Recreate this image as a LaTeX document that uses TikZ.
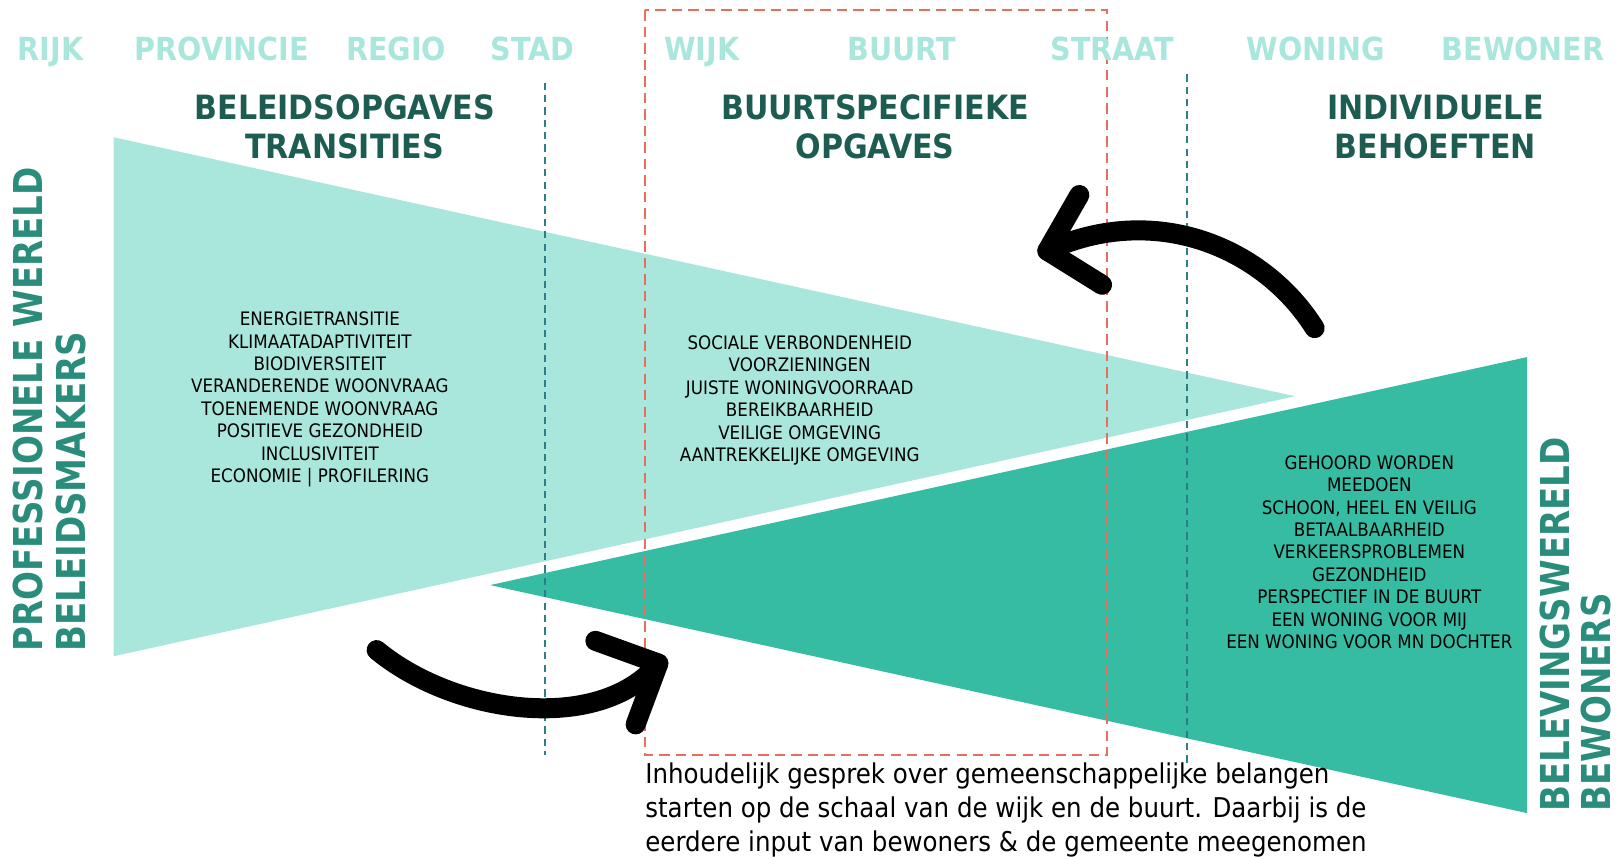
\documentclass[tikz,border=0pt]{standalone}
\usepackage{fontspec}
\setmainfont{DejaVu Sans}[FakeStretch=0.9]
\newfontfamily\boldf{DejaVu Sans}[FakeStretch=0.9]
\newfontfamily\sidef{DejaVu Sans}[FakeStretch=0.855]
\definecolor{lightteal}{HTML}{A9E7DC}
\definecolor{darkteal}{HTML}{37BCA4}
\definecolor{headgreen}{HTML}{1D5C50}
\definecolor{sidegreen}{HTML}{2A8D7B}
\definecolor{redd}{HTML}{E46F5B}
\definecolor{dashteal}{HTML}{2F7E87}
\tikzset{
  toplabel/.style={font=\boldf\bfseries\fontsize{15.4}{17}\selectfont, text=lightteal, inner sep=0pt, anchor=base},
  heading/.style={font=\boldf\bfseries\fontsize{16.2}{19}\selectfont, text=headgreen, align=center, inner sep=0pt},
  listtext/.style={font=\fontsize{9}{10.85}\selectfont, align=center, inner sep=0pt},
  sidelabel/.style={font=\sidef\bfseries\fontsize{19.3}{21}\selectfont, text=sidegreen, rotate=90, anchor=west, inner sep=0pt},
  reddash/.style={draw=redd, line width=1pt, dash pattern=on 5pt off 3pt},
  tealdash/.style={draw=dashteal, line width=0.9pt, dash pattern=on 3.5pt off 2.5pt},
  bigarrow/.style={draw=black, line width=9.7pt, line cap=round, line join=round},
  bodytext/.style={font=\fontsize{13.2}{16.6}\selectfont, align=left, inner sep=0pt}
}
\begin{document}
\begin{tikzpicture}[x=0.5pt,y=-0.5pt]
\useasboundingbox (0,0) rectangle (1568,830.4);
% triangles
\fill[lightteal] (110,133) -- (1255,384) -- (110,636) -- cycle;
\fill[darkteal] (475,567) -- (1480,346) -- (1480,788) -- cycle;
% dashed lines
\draw[reddash] (625,10) rectangle (1073,732);
\coordinate (t1a) at (528,80); \coordinate (t1b) at (528,732);
\coordinate (t2a) at (1150,72); \coordinate (t2b) at (1150,740);
\draw[tealdash] (t1a) -- (t1b);
\draw[tealdash] (t2a) -- (t2b);
% top scale labels
\node[toplabel] (rijk) at (49,59) {RIJK};
\node[toplabel] (prov) at (215,59) {PROVINCIE};
\node[toplabel] (regio) at (384,59) {REGIO};
\node[toplabel] (stad) at (516,59) {STAD};
\node[toplabel] (wijk) at (680,59) {WIJK};
\node[toplabel] (buurt) at (874,59) {BUURT};
\node[toplabel] (straat) at (1078,59) {STRAAT};
\node[toplabel] (woning) at (1275,59) {WONING};
\node[toplabel] (bewoner) at (1476,59) {BEWONER};
% headings
\node[heading] (h1) at (334,123) {BELEIDSOPGAVES\\TRANSITIES};
\node[heading] (h2) at (848,123) {BUURTSPECIFIEKE\\OPGAVES};
\node[heading] (h3) at (1391,123) {INDIVIDUELE\\BEHOEFTEN};
% lists
\node[listtext] (l1) at (310,387) {ENERGIETRANSITIE\\KLIMAATADAPTIVITEIT\\BIODIVERSITEIT\\VERANDERENDE WOONVRAAG\\TOENEMENDE WOONVRAAG\\POSITIEVE GEZONDHEID\\INCLUSIVITEIT\\ECONOMIE | PROFILERING};
\node[listtext] (l2) at (775,388) {SOCIALE VERBONDENHEID\\VOORZIENINGEN\\JUISTE WONINGVOORRAAD\\BEREIKBAARHEID\\VEILIGE OMGEVING\\AANTREKKELIJKE OMGEVING};
\node[listtext] (l3) at (1327,535) {GEHOORD WORDEN\\MEEDOEN\\SCHOON, HEEL EN VEILIG\\BETAALBAARHEID\\VERKEERSPROBLEMEN\\GEZONDHEID\\PERSPECTIEF IN DE BUURT\\EEN WONING VOOR MIJ\\EEN WONING VOOR MN DOCHTER};
% side labels
\node[sidelabel] (s1) at (27,632) {PROFESSIONELE WERELD};
\node[sidelabel] (s2) at (69,632) {BELEIDSMAKERS};
\node[sidelabel] (s3) at (1507,787) {BELEVINGSWERELD};
\node[sidelabel] (s4) at (1547,787) {BEWONERS};
% bottom text
\node[bodytext, anchor=west] (body) at (625,785) {Inhoudelijk gesprek over gemeenschappelijke belangen\\starten op de schaal van de wijk en de buurt. Daarbij is de\\eerdere input van bewoners \& de gemeente meegenomen};
% arrows
\coordinate (a1s) at (365,630);
\coordinate (a1t) at (638,643);
\coordinate (a1p) at (577,621);
\coordinate (a1q) at (616,702);
\draw[bigarrow] (a1s) .. controls (440,692) and (580,712) .. (a1t);
\draw[bigarrow] (a1p) -- (a1t) -- (a1q);
\coordinate (a2s) at (1274,318);
\coordinate (a2t) at (1015,243);
\coordinate (a2p) at (1046,189);
\coordinate (a2q) at (1068,276);
\draw[bigarrow] (a2s) .. controls (1225,240) and (1120,195) .. (a2t);
\draw[bigarrow] (a2p) -- (a2t) -- (a2q);
\end{tikzpicture}
\end{document}
